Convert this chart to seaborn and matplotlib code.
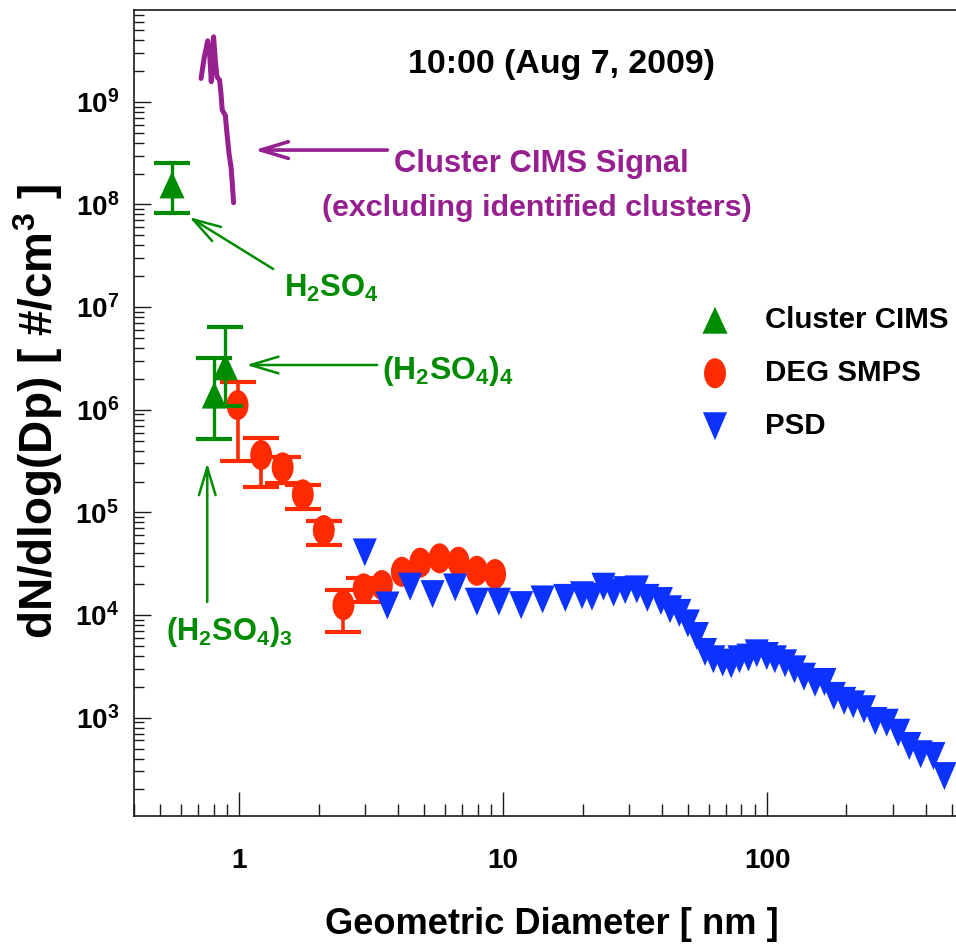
import os
import numpy as np
import matplotlib
matplotlib.use("Agg")
import matplotlib.pyplot as plt
import seaborn as sns
from matplotlib.path import Path
from matplotlib import ticker
from matplotlib import font_manager as fm

# ---------------- data ----------------
# Cluster CIMS (H2SO4, (H2SO4)3, (H2SO4)4)
cims_d = [0.556, 0.804, 0.885]
cims_n = [1.55e8, 1.39e6, 2.62e6]
cims_lo = [8.3e7, 5.15e5, 1.08e6]
cims_hi = [2.51e8, 3.16e6, 6.35e6]

# DEG SMPS
smps_d = [0.985, 1.21, 1.46, 1.74, 2.09, 2.48, 2.96, 3.47, 4.13, 4.85, 5.74, 6.77, 7.95, 9.32]
smps_n = [1.11e6, 3.62e5, 2.75e5, 1.5e5, 6.73e4, 1.25e4, 1.82e4, 1.96e4, 2.64e4, 3.24e4,
          3.57e4, 3.31e4, 2.7e4, 2.51e4]
smps_lo = [3.16e5, 1.75e5, 1.92e5, 1.07e5, 4.8e4, 6.8e3, 1.33e4]
smps_hi = [1.87e6, 5.33e5, 3.48e5, 1.85e5, 8.3e4, 1.75e4, 2.29e4]

# PSD
psd_d = [2.99, 3.64, 4.44, 5.40, 6.58, 7.95, 9.63, 11.7, 14.1, 17.2, 19.9, 21.7, 24.0, 26.2,
         29.0, 32.1, 35.2, 39.6, 42.9, 46.5, 50.1, 54.2, 58.2, 62.6, 67.9, 73.1, 78.6, 85.0,
         91.4, 99.7, 107, 117, 127, 138, 152, 165, 179, 196, 212, 233, 257, 284, 314, 346,
         382, 427, 470]
psd_n = [4.08e4, 1.24e4, 1.89e4, 1.60e4, 1.86e4, 1.35e4, 1.35e4, 1.25e4, 1.42e4, 1.47e4,
         1.56e4, 1.51e4, 1.89e4, 1.65e4, 1.75e4, 1.78e4, 1.47e4, 1.37e4, 1.14e4, 1.05e4,
         8.3e3, 6.25e3, 4.37e3, 3.71e3, 3.44e3, 3.31e3, 3.71e3, 3.85e3, 4.24e3, 3.99e3,
         3.71e3, 3.39e3, 2.96e3, 2.51e3, 2.19e3, 2.23e3, 1.63e3, 1.46e3, 1.35e3, 1.21e3,
         929, 894, 714, 530, 441, 424, 270]

# Cluster CIMS signal (purple trace)
sig_d = [0.716, 0.737, 0.759, 0.772, 0.783, 0.792, 0.799, 0.811, 0.823, 0.842, 0.852,
         0.862, 0.885, 0.898, 0.914, 0.930, 0.941, 0.951]
sig_n = [1.69e9, 2.74e9, 3.93e9, 2.96e9, 1.57e9, 2.96e9, 4.30e9, 2.55e9, 1.75e9, 1.63e9,
         1.21e9, 8.3e8, 7.4e8, 4.92e8, 3.14e8, 2.33e8, 1.60e8, 1.04e8]

x_major = [1, 10, 100]
x_labels = ["1", "10", "100"]
y_exps = [3, 4, 5, 6, 7, 8, 9]
y_labels = [f"10$^{{{e}}}$" for e in y_exps]

legend_labels = ["Cluster CIMS", "DEG SMPS", "PSD"]
title_text = "10:00 (Aug 7, 2009)"

# ---------------- style ----------------
GREEN = "#008C00"
RED = "#FF2A00"
BLUE = "#0B32FF"
PURPLE = "#96208F"

sns.set_theme(style="ticks")
avail = {f.name for f in fm.fontManager.ttflist}
WIDE = "Liberation Sans" if "Liberation Sans" in avail else "DejaVu Sans"

# pick the narrowest bold sans available for the condensed-looking labels
files = {}
for f in fm.fontManager.ttflist:
    stem = os.path.splitext(os.path.basename(f.fname))[0].lower()
    files.setdefault(stem, f.fname)
prefs = ["liberationsansnarrow-bold", "notosans-extracondensedbold", "notosans-condensedbold",
         "notosans-semicondensedbold", "liberationsans-bold"]
narrow_file = None
for p in prefs:
    if p in files:
        narrow_file = files[p]
        break


def NP(size):
    if narrow_file is not None:
        return fm.FontProperties(fname=narrow_file, size=size)
    return fm.FontProperties(family=WIDE, weight="bold", size=size)


plt.rcParams["font.family"] = [WIDE, "DejaVu Sans"]
plt.rcParams["font.weight"] = "bold"
plt.rcParams["text.color"] = "black"
plt.rcParams["mathtext.fontset"] = "custom"
plt.rcParams["mathtext.rm"] = WIDE + ":bold"
plt.rcParams["mathtext.bf"] = WIDE + ":bold"
plt.rcParams["mathtext.default"] = "regular"

W, H = 956, 944
fig = plt.figure(figsize=(W / 100, H / 100), dpi=100)
L, R, T, B = 134.3, 956, 9.7, 815.7
ax = fig.add_axes([L / W, 1 - B / H, (R - L) / W, (B - T) / H])
ax.set_xscale("log")
ax.set_yscale("log")
ax.set_xlim(0.4, 520)
ax.set_ylim(111, 7.9e9)
renderer = fig.canvas.get_renderer()


def fx(px):
    return px / W


def fy(py):
    return 1 - py / H


def fit(t, target, dim="w", grow=1.0):
    bb = t.get_window_extent(renderer)
    cur = bb.width if dim == "w" else bb.height
    t.set_fontsize(t.get_fontsize() * target / cur * grow)
    return t.get_fontsize()


# marker shapes
tri_up = Path([(0, 1), (-0.93, -1), (0.93, -1), (0, 1)],
              [Path.MOVETO, Path.LINETO, Path.LINETO, Path.CLOSEPOLY])
tri_down = Path([(0, -1), (-0.86, 1), (0.86, 1), (0, -1)],
                [Path.MOVETO, Path.LINETO, Path.LINETO, Path.CLOSEPOLY])
uc = Path.unit_circle()
ellipse = Path(uc.vertices * np.array([0.73, 1.0]), uc.codes)

# error bars
sm_d = np.array(smps_d[:len(smps_lo)])
sm_n = np.array(smps_n[:len(smps_lo)])
ax.errorbar(sm_d, sm_n, yerr=[sm_n - np.array(smps_lo), np.array(smps_hi) - sm_n],
            fmt="none", ecolor=RED, elinewidth=2.6, capsize=13.3, capthick=3.0, zorder=2)
cd = np.array(cims_d)
cn = np.array(cims_n)
ax.errorbar(cd, cn, yerr=[cn - np.array(cims_lo), np.array(cims_hi) - cn],
            fmt="none", ecolor=GREEN, elinewidth=2.4, capsize=13.3, capthick=3.0, zorder=4)

# markers
sns.scatterplot(x=cims_d, y=cims_n, marker=tri_up, s=377, color=GREEN, edgecolor="none",
                linewidth=0, ax=ax, label=legend_labels[0], zorder=5)
sns.scatterplot(x=smps_d, y=smps_n, marker=ellipse, s=467, color=RED, edgecolor="none",
                linewidth=0, ax=ax, label=legend_labels[1], zorder=3)
sns.scatterplot(x=psd_d, y=psd_n, marker=tri_down, s=406, color=BLUE, edgecolor="none",
                linewidth=0, ax=ax, label=legend_labels[2], zorder=6)

# purple signal trace
sns.lineplot(x=sig_d, y=sig_n, sort=False, estimator=None, color=PURPLE, lw=3.6, ax=ax,
             solid_capstyle="round", solid_joinstyle="round", zorder=4)

# axes styling
for s in ["left", "bottom", "top"]:
    ax.spines[s].set_color("#1a1a1a")
    ax.spines[s].set_linewidth(1.2)
ax.spines["right"].set_visible(False)

ax.xaxis.set_major_locator(ticker.FixedLocator(x_major))
ax.xaxis.set_major_formatter(ticker.FixedFormatter(x_labels))
ax.xaxis.set_minor_locator(ticker.LogLocator(base=10, subs=np.arange(2, 10), numticks=30))
ax.xaxis.set_minor_formatter(ticker.NullFormatter())
ax.yaxis.set_major_locator(ticker.FixedLocator([10.0 ** e for e in y_exps]))
ax.yaxis.set_major_formatter(ticker.FixedFormatter(y_labels))
ax.yaxis.set_minor_locator(ticker.LogLocator(base=10, subs=np.arange(2, 10), numticks=30))
ax.yaxis.set_minor_formatter(ticker.NullFormatter())

# tick label size: fit "10" to the reference width, a little taller
probe = fig.text(0.5, 0.5, "10", fontproperties=NP(20))
tick_fs = fit(probe, 27, grow=1.15)
probe.remove()

ax.tick_params(axis="both", which="both", direction="in", top=False, right=False,
               color="#1a1a1a", width=1.0, labelcolor="black")
ax.tick_params(axis="x", which="major", length=17.5, pad=23)
ax.tick_params(axis="x", which="minor", length=8.6)
ax.tick_params(axis="y", which="major", length=12.2, pad=11)
ax.tick_params(axis="y", which="minor", length=7)
for lab in ax.get_xticklabels() + ax.get_yticklabels():
    lab.set_fontproperties(NP(tick_fs))

ax.set_xlabel("")
ax.set_ylabel("")

# axis titles
yl = fig.text(fx(38), fy(412), "dN/dlog(Dp) [ #/cm$^3$ ]", rotation=90, ha="center",
              va="center", fontsize=30, fontweight="bold", family=[WIDE, "DejaVu Sans"],
              color="black")
fit(yl, 455, "h")
xl = fig.text(fx(552), fy(934), "Geometric Diameter [ nm ]", ha="center", va="baseline",
              fontproperties=NP(30), color="black")
fit(xl, 428, grow=1.06)

# title inside plot
tt = fig.text(fx(562), fy(73.3), title_text, ha="center", va="baseline",
              fontproperties=NP(26), color="black")
fit(tt, 290, grow=1.06)

# annotations
a1 = fig.text(fx(394), fy(172), "Cluster CIMS Signal", ha="left", va="baseline",
              fontproperties=NP(25), color=PURPLE)
fit(a1, 283, grow=1.04)
a2 = fig.text(fx(537), fy(216), "(excluding identified clusters)", ha="center",
              va="baseline", fontproperties=NP(25), color=PURPLE)
fit(a2, 418, grow=1.03)
g1 = fig.text(fx(284), fy(297), "H$_2$SO$_4$", ha="left", va="baseline",
              fontproperties=NP(25), color=GREEN)
fit(g1, 86, grow=1.1)
g2 = fig.text(fx(382), fy(379), "(H$_2$SO$_4$)$_4$", ha="left", va="baseline",
              fontproperties=NP(25), color=GREEN)
fit(g2, 120, grow=1.1)
g3 = fig.text(fx(166), fy(640), "(H$_2$SO$_4$)$_3$", ha="left", va="baseline",
              fontproperties=NP(25), color=GREEN)
fit(g3, 115, grow=1.1)

arrow_kw = dict(arrowstyle="->,head_length=20,head_width=6", mutation_scale=1,
                shrinkA=0, shrinkB=0)
ax.annotate("", xy=(1.14, 3.39e8), xytext=(3.64, 3.39e8),
            arrowprops=dict(color=PURPLE, lw=2.6, **arrow_kw))
ax.annotate("", xy=(0.646, 7.54e7), xytext=(1.345, 2.35e7),
            arrowprops=dict(color=GREEN, lw=1.8, **arrow_kw))
ax.annotate("", xy=(1.063, 2.73e6), xytext=(3.33, 2.73e6),
            arrowprops=dict(color=GREEN, lw=1.8, **arrow_kw))
ax.annotate("", xy=(0.756, 3.03e5), xytext=(0.756, 1.34e4),
            arrowprops=dict(color=GREEN, lw=1.8, **arrow_kw))

# legend (sized to the reference's text width and row pitch)
lp = fig.text(0.5, 0.5, legend_labels[0], fontproperties=NP(25))
leg_fs = fit(lp, 184)
text_h = lp.get_window_extent(renderer).height
lp.remove()
fpx = leg_fs * 100 / 72
row_h = max(text_h, 0.7 * fpx)
leg = ax.legend(loc="upper left", bbox_to_anchor=(fx(715 - 24.3), fy(320 - row_h / 2)),
                bbox_transform=fig.transFigure, frameon=False, prop=NP(leg_fs),
                handlelength=48.6 / fpx, handletextpad=(765 - 715 - 24.3) / fpx,
                labelspacing=(53 - row_h) / fpx, borderpad=0, borderaxespad=0,
                scatterpoints=1)

fig.savefig("out.png", dpi=100)
